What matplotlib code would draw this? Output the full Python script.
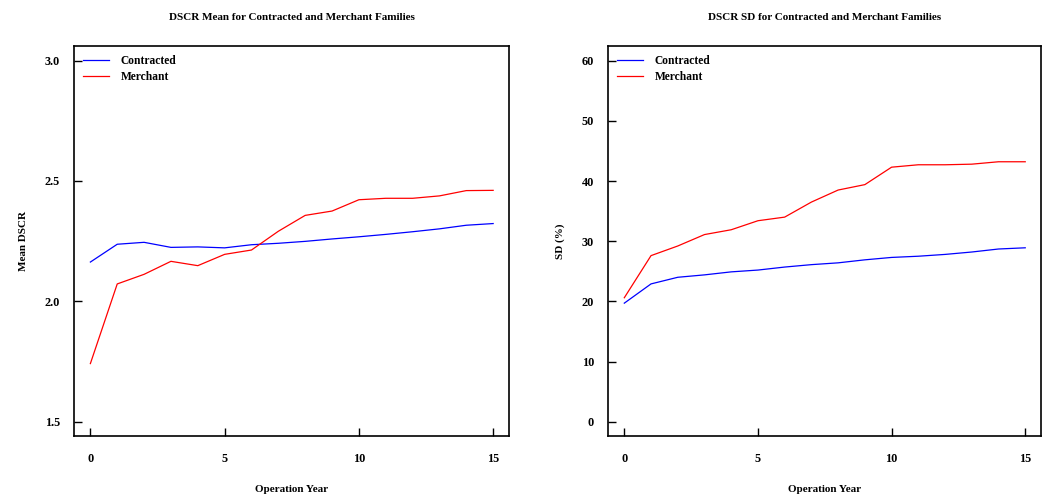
import matplotlib
matplotlib.use("Agg")
import matplotlib.pyplot as plt

years = list(range(16))
mean_contracted = [2.163, 2.237, 2.245, 2.224, 2.226, 2.222, 2.235, 2.241, 2.249, 2.259,
                   2.268, 2.278, 2.289, 2.301, 2.316, 2.323]
mean_merchant = [1.741, 2.072, 2.112, 2.166, 2.148, 2.195, 2.213, 2.291, 2.357, 2.375,
                 2.422, 2.428, 2.428, 2.438, 2.460, 2.461]
sd_contracted = [19.7, 22.9, 24.0, 24.4, 24.9, 25.2, 25.7, 26.1, 26.4, 26.9,
                 27.3, 27.5, 27.8, 28.2, 28.7, 28.9]
sd_merchant = [20.6, 27.6, 29.2, 31.1, 31.9, 33.4, 34.0, 36.5, 38.5, 39.4,
               42.3, 42.7, 42.7, 42.8, 43.2, 43.2]
xticks = [0, 5, 10, 15]
mean_yticks = [1.5, 2.0, 2.5, 3.0]
sd_yticks = [0, 10, 20, 30, 40, 50, 60]
series_names = ["Contracted", "Merchant"]

plt.rcParams["font.family"] = ["Liberation Serif", "DejaVu Serif"]
plt.rcParams["font.weight"] = "bold"

fig = plt.figure(figsize=(10.45, 5.0), dpi=100)
W, H = 1045, 500

def make_ax(l, r, t, b):
    return fig.add_axes([l / W, 1 - b / H, (r - l) / W, (b - t) / H])

ax1 = make_ax(74, 509, 46, 436)
ax2 = make_ax(608, 1041, 46, 436)

def style(ax, yticks, ylim, title, ylabel):
    ax.set_xlim(-0.61, 15.59)
    ax.set_ylim(*ylim)
    ax.set_xticks(xticks)
    ax.set_yticks(yticks)
    ax.tick_params(direction="in", length=6, width=1.0, labelsize=8.8)
    ax.tick_params(axis="x", pad=12)
    ax.tick_params(axis="y", pad=10)
    for s in ax.spines.values():
        s.set_linewidth(1.2)
    ax.set_title(title, fontsize=8, pad=19, fontweight="bold")
    ax.set_xlabel("Operation Year", fontsize=8, labelpad=15, fontweight="bold")
    ax.set_ylabel(ylabel, fontsize=8, labelpad=12, fontweight="bold")
    ax.legend(loc="upper left", frameon=False, fontsize=8.3, handlelength=2.3,
              handletextpad=1.0, borderaxespad=0.3, labelspacing=0.35,
              borderpad=0.45, bbox_to_anchor=(0.0, 1.0))

ax1.plot(years, mean_contracted, color="blue", lw=0.9, label=series_names[0])
ax1.plot(years, mean_merchant, color="red", lw=0.9, label=series_names[1])
style(ax1, mean_yticks, (1.44, 3.061), "DSCR Mean for Contracted and Merchant Families", "Mean DSCR")
ax1.set_yticklabels([f"{v:.1f}" for v in mean_yticks])

ax2.plot(years, sd_contracted, color="blue", lw=0.9, label=series_names[0])
ax2.plot(years, sd_merchant, color="red", lw=0.9, label=series_names[1])
style(ax2, sd_yticks, (-2.38, 62.44), "DSCR SD for Contracted and Merchant Families", "SD (%)")

fig.savefig("out.png", dpi=100)
